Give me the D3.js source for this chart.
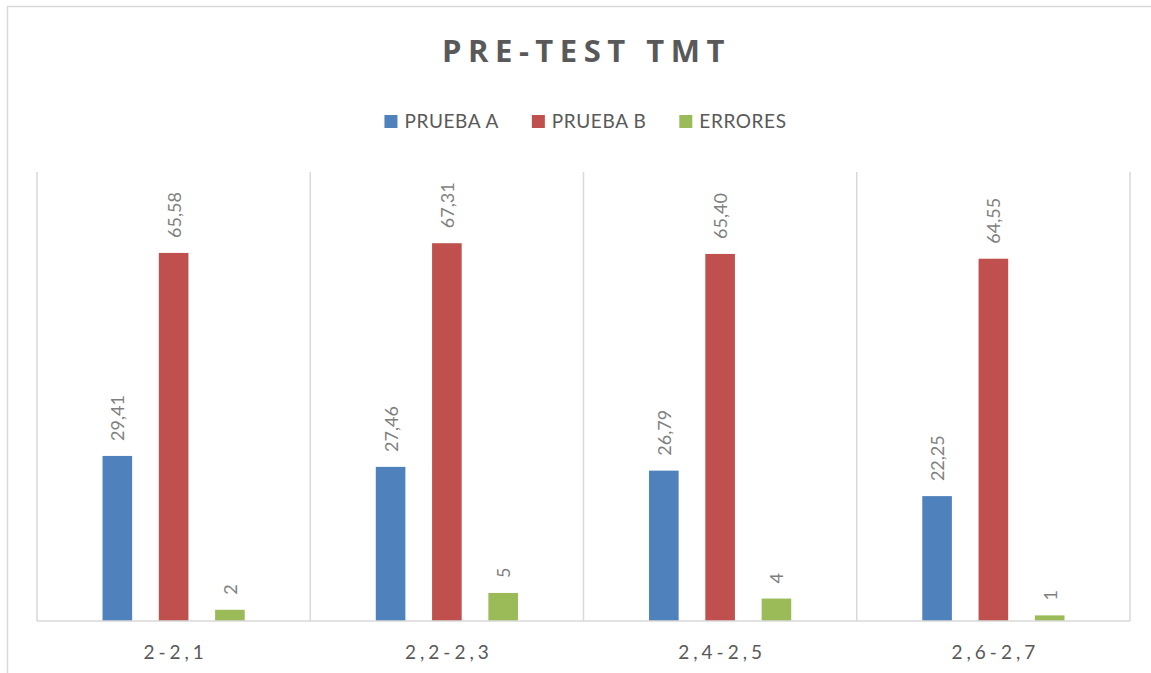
<!DOCTYPE html>
<html>
<head>
<meta charset="utf-8">
<style>
  body { margin: 0; background: #fff; }
  svg { display: block; font-family: Lato, "Open Sans", sans-serif; }
</style>
</head>
<body>

<script src="https://d3js.org/d3.v7.min.js"></script>
<script>

const width = 1151;
const height = 673;

const categories = ['2-2,1', '2,2-2,3', '2,4-2,5', '2,6-2,7'];
const seriesNames = ['PRUEBA A', 'PRUEBA B', 'ERRORES'];
const pruebaA = [29.41, 27.46, 26.79, 22.25];
const pruebaB = [65.58, 67.31, 65.40, 64.55];
const errores = [2, 5, 4, 1];
const colors = ['#4f81bd', '#c0504d', '#9bbb59'];

const seriesValues = [pruebaA, pruebaB, errores];
const fmt = v => Number.isInteger(v) ? String(v) : v.toFixed(2).replace('.', ',');

const plot = {left: 37, right: 1130, top: 172, bottom: 621};

const svg = d3.select('body')
              .append('svg')
              .attr('width', width)
              .attr('height', height);

// chart frame (runs past the right and bottom edge like the original)
svg.append('rect')
   .attr('x', 7.5).attr('y', 6.5)
   .attr('width', 1160).attr('height', 700)
   .attr('fill', '#fff')
   .attr('stroke', '#d9d9d9')
   .attr('stroke-width', 1.5);

const x0 = d3.scaleBand()
             .domain(categories)
             .range([plot.left, plot.right])
             .padding(0);

const x1 = d3.scaleBand()
             .domain(seriesNames)
             .range([0, x0.bandwidth()])
             .paddingInner(0.474)
             .paddingOuter(1.164);

const y = d3.scaleLinear()
            .domain([0, 80])
            .range([plot.bottom, plot.top]);

// vertical category separators
const bounds = categories.map(c => x0(c)).concat([plot.right]);
svg.append('g')
   .selectAll('line')
   .data(bounds)
   .enter()
   .append('line')
   .attr('x1', d => d).attr('x2', d => d)
   .attr('y1', plot.top).attr('y2', plot.bottom)
   .attr('stroke', '#d9d9d9')
   .attr('stroke-width', 1.5);

// bars
const rows = [];
categories.forEach((c, i) => {
  seriesNames.forEach((s, j) => {
    rows.push({cat: c, series: s, value: seriesValues[j][i], color: colors[j]});
  });
});

const groups = svg.append('g');

groups.selectAll('rect')
      .data(rows)
      .enter()
      .append('rect')
      .attr('x', d => x0(d.cat) + x1(d.series))
      .attr('y', d => y(d.value))
      .attr('width', x1.bandwidth())
      .attr('height', d => y(0) - y(d.value))
      .attr('fill', d => d.color);

// rotated data labels
groups.selectAll('text')
      .data(rows)
      .enter()
      .append('text')
      .attr('transform', d => `translate(${x0(d.cat) + x1(d.series) + x1.bandwidth() / 2},${y(d.value) - 15}) rotate(-90)`)
      .attr('text-anchor', 'start')
      .attr('dominant-baseline', 'central')
      .attr('font-size', 18)
      .attr('fill', '#7f7f7f')
      .text(d => fmt(d.value));

// baseline
svg.append('line')
   .attr('x1', plot.left).attr('x2', plot.right)
   .attr('y1', plot.bottom).attr('y2', plot.bottom)
   .attr('stroke', '#d9d9d9')
   .attr('stroke-width', 1.5);

// category labels
svg.append('g')
   .selectAll('text')
   .data(categories)
   .enter()
   .append('text')
   .attr('x', d => x0(d) + x0.bandwidth() / 2 + 2)
   .attr('y', 659)
   .attr('text-anchor', 'middle')
   .attr('font-size', 19)
   .attr('letter-spacing', 4)
   .attr('fill', '#595959')
   .text(d => d);

// title
svg.append('text')
   .attr('x', (plot.left + plot.right) / 2 + 3)
   .attr('y', 62)
   .attr('text-anchor', 'middle')
   .attr('font-family', '"Open Sans", Lato, sans-serif')
   .attr('font-size', 31)
   .attr('font-weight', 'bold')
   .attr('letter-spacing', 6.5)
   .attr('fill', '#595959')
   .text('PRE-TEST TMT');

// legend
const legend = svg.append('g');
const items = legend.selectAll('g')
                    .data(seriesNames)
                    .enter()
                    .append('g');

items.append('rect')
     .attr('width', 13).attr('height', 13)
     .attr('y', -13)
     .attr('fill', (d, i) => colors[i]);

items.append('text')
     .attr('x', 20)
     .attr('font-size', 19)
     .attr('letter-spacing', 0.6)
     .attr('fill', '#595959')
     .text(d => d);

let offset = 0;
const widths = [];
items.each(function () {
  const w = 20 + this.querySelector('text').getComputedTextLength();
  widths.push(w);
});
const gap = 33;
const total = d3.sum(widths) + gap * (widths.length - 1);
let start = (plot.left + plot.right) / 2 + 2 - total / 2;
items.attr('transform', (d, i) => {
  const t = `translate(${start + offset},128)`;
  offset += widths[i] + gap;
  return t;
});

</script>
</body>
</html>
